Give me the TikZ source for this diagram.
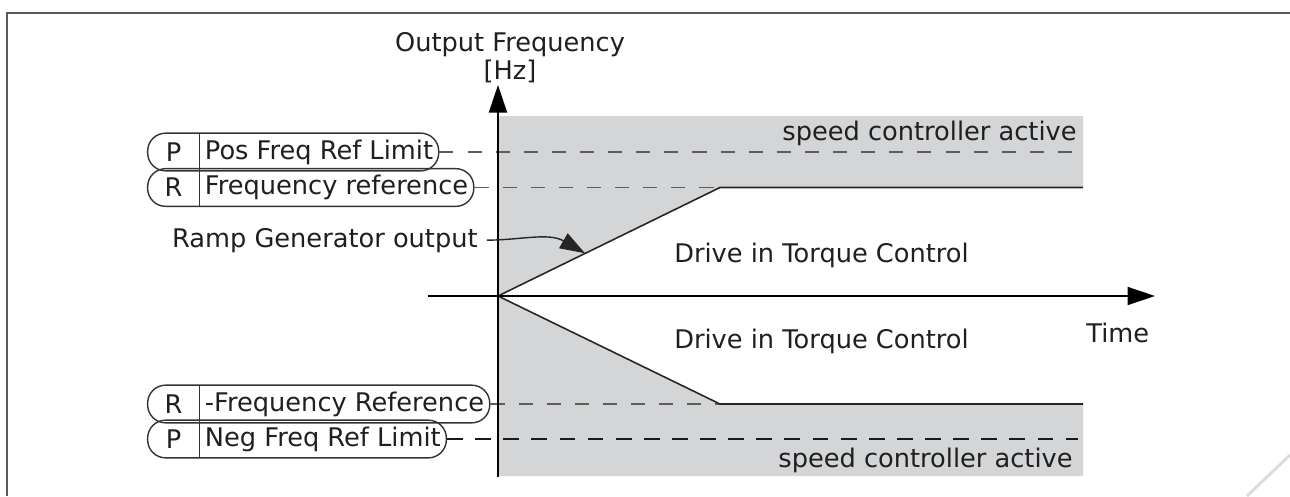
\documentclass[tikz,border=0pt]{standalone}
\usepackage{fontspec}
\setmainfont{DejaVu Sans}
\usetikzlibrary{arrows.meta,fit}

\definecolor{zonaGrigia}{HTML}{D4D5D7}
\definecolor{trattoGrigio}{HTML}{5C5C5C}

\begin{document}
\begin{tikzpicture}[x=1cm,y=1cm,font=\fontsize{14.6}{15.6}\selectfont,text=black!88,
  lettera/.style={minimum width=1.02cm,minimum height=0.74cm,inner sep=0pt},
  voce/.style={anchor=west,minimum height=0.74cm,inner ysep=0pt,inner xsep=3pt},
  pillola/.style={draw=black!80,line width=0.8pt,rounded corners=0.36cm,inner sep=0pt},
  asse/.style={line width=1.1pt,-{Triangle[length=0.55cm,width=0.36cm]}},
  rampa/.style={line width=0.9pt,black!85},
  guida/.style={draw=trattoGrigio,line width=0.8pt,dash pattern=on 8pt off 8pt}]
  \useasboundingbox (-9.96,-4.0) rectangle (15.84,5.92);
  % Cornice della pagina e piega in basso a destra.
  \draw[black!65,line width=1pt] (15.84,5.66) -- (-9.82,5.66) -- (-9.82,-4.0);
  \draw[black!14,line width=1.6pt] (14.98,-4.0) -- (15.84,-3.18);
  % Punti della rampa: origine, ginocchio e fine, sopra e sotto.
  \coordinate (O) at (0,0);
  \coordinate (ginocchioSu) at (4.44,2.17);
  \coordinate (fineSu) at (11.7,2.17);
  \coordinate (ginocchioGiu) at (4.44,-2.16);
  \coordinate (fineGiu) at (11.7,-2.16);
  \coordinate (limSu) at (11.6,2.88);
  \coordinate (limGiu) at (11.6,-2.86);
  \fill[zonaGrigia] (0,3.6) -- (11.7,3.6) -- (fineSu) -- (ginocchioSu) -- (O) -- cycle;
  \fill[zonaGrigia] (O) -- (ginocchioGiu) -- (fineGiu) -- (11.7,-3.6) -- (0,-3.6) -- cycle;
  % Etichette a pillola: sigla a sinistra, nome del parametro a destra.
  \foreach \nome/\sigla/\testo/\y in {pos/P/Pos Freq Ref Limit/2.88,
      rif/R/Frequency reference/2.17,mrif/R/-Frequency Reference/-2.16,
      neg/P/Neg Freq Ref Limit/-2.86}{
    \node[lettera] (l\nome) at (-6.49,\y) {\sigla};
    \node[voce] (t\nome) at (l\nome.east) {\testo};
    \node[pillola,fit=(l\nome)(t\nome)] (\nome) {};
    \draw[black!80,line width=0.8pt] (l\nome.north east) -- (l\nome.south east);
  }
  \draw[guida] (pos.east) -- (limSu);
  \draw[guida] (rif.east) -- (ginocchioSu);
  \draw[guida] (mrif.east) -- (ginocchioGiu);
  \draw[guida,draw=black!90,line width=1.3pt,dash pattern=on 9pt off 7pt] (neg.east) -- (limGiu);
  \draw[rampa] (fineSu) -- (ginocchioSu) -- (O) -- (ginocchioGiu) -- (fineGiu);
  % Assi.
  \coordinate (assePiede) at (0,-3.62);
  \coordinate (asseCima) at (0,4.22);
  \coordinate (asseSx) at (-1.4,0);
  \coordinate (asseDx) at (13.14,0);
  \draw[asse] (assePiede) -- (asseCima);
  \draw[asse] (asseSx) -- (asseDx);
  \node[anchor=south,align=center,inner sep=0pt] (uscita) at (0.24,4.26)
    {Output Frequency\\{[Hz]}};
  \node[anchor=base west,inner sep=0pt] (tempo) at (11.76,-0.92) {Time};
  % Testi delle zone.
  \node[anchor=base east,inner sep=0pt] (velSu) at (11.58,3.12) {speed controller active};
  \node[anchor=base east,inner sep=0pt] (velGiu) at (11.5,-3.42) {speed controller active};
  \node[anchor=base,inner sep=0pt] (coppiaSu) at (6.47,0.68) {Drive in Torque Control};
  \node[anchor=base,inner sep=0pt] (coppiaGiu) at (6.47,-1.04) {Drive in Torque Control};
  % Richiamo dell'uscita del generatore di rampa.
  \coordinate (puntaRampa) at (1.74,0.855);
  \node[anchor=base east,inner sep=0pt] (rampaTesto) at (-0.4,0.98) {Ramp Generator output};
  \draw[line width=0.8pt,black!85,shorten <=5pt,-{Triangle[length=0.5cm,width=0.34cm]}]
    (rampaTesto.east) to[out=0,in=150] (puntaRampa);
\end{tikzpicture}
\end{document}
